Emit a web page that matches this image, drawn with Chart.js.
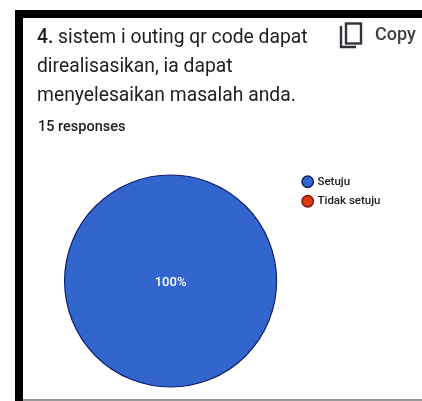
<!DOCTYPE html>
<html>
<head>
<meta charset="utf-8">
<script src="https://cdn.jsdelivr.net/npm/chart.js@4"></script>
<style>
  html, body { margin: 0; padding: 0; background: #fff; }
  #card { position: relative; width: 422px; height: 401px; overflow: hidden; background: #fff; font-family: Roboto, sans-serif; color: #202124; }
  #frameTop { position: absolute; left: 15px; top: 10px; width: 407px; height: 8px; background: #000; }
  #frameLeft { position: absolute; left: 15px; top: 10px; width: 8px; height: 391px; background: #000; }
  #frameBottom { position: absolute; left: 23px; top: 399px; width: 399px; height: 2px; background: #9a9a9a; }
  .line { position: absolute; left: 37px; font-size: 19.3px; line-height: 22px; white-space: nowrap; filter: blur(0.4px); }
  #num { font-weight: 500; }
  #responses { position: absolute; left: 38px; top: 119px; font-size: 14.5px; font-weight: 500; line-height: 16px; filter: blur(0.4px); }
  #copy { position: absolute; left: 375px; top: 24px; font-size: 18px; font-weight: 500; line-height: 20px; color: #3c4043; filter: blur(0.4px); }
  #copyIcon { position: absolute; left: 339px; top: 22px; }
  #wrap { position: absolute; left: 23px; top: 160px; width: 399px; height: 239px; }
</style>
</head>
<body>
<div id="card">
  <div id="frameTop"></div>
  <div id="frameLeft"></div>
  <div id="frameBottom"></div>
  <div class="line" style="top:26px"><span id="num">4.</span> sistem i outing qr code dapat</div>
  <div class="line" style="top:55px">direalisasikan, ia dapat</div>
  <div class="line" style="top:84px">menyelesaikan masalah anda.</div>
  <div id="responses">15 responses</div>
  <svg id="copyIcon" width="24" height="28" viewBox="0 0 24 28" fill="none" stroke="#30343a" stroke-width="2.4">
    <rect x="7" y="1.5" width="15" height="20"/>
    <path d="M2 4 V25 H17"/>
  </svg>
  <div id="copy">Copy</div>
  <div id="wrap"><canvas id="pie"></canvas></div>
</div>
<script>
const categories = ["Setuju", "Tidak setuju"];
const responses = [15, 0];
const percentLabels = ["100%", ""];
const sliceColors = ["#3366cc", "#dc3912"];
const legendEdges = ["#0f1f6e", "#7a1408"];

// Dark rim round the pie, plus the percentage at the slice centre.
const pieDecor = {
  id: "pieDecor",
  afterDatasetsDraw(chart) {
    const { ctx } = chart;
    const meta = chart.getDatasetMeta(0);
    const first = meta.data[0];
    ctx.save();
    ctx.strokeStyle = legendEdges[0];
    ctx.lineWidth = 1.2;
    ctx.beginPath();
    ctx.arc(first.x, first.y, first.outerRadius, 0, Math.PI * 2);
    ctx.stroke();
    ctx.font = "500 13px Roboto, sans-serif";
    ctx.fillStyle = "#ffffff";
    ctx.textAlign = "center";
    ctx.textBaseline = "middle";
    meta.data.forEach((arc, i) => {
      if (percentLabels[i]) ctx.fillText(percentLabels[i], arc.x, arc.y + 2);
    });
    ctx.restore();
  }
};

new Chart(document.getElementById("pie"), {
  type: "pie",
  data: {
    labels: categories,
    datasets: [{
      data: responses,
      backgroundColor: sliceColors,
      borderWidth: 0
    }]
  },
  options: {
    responsive: true,
    maintainAspectRatio: false,
    animation: false,
    radius: 106,
    layout: { padding: { top: 8, bottom: 5, left: 22.5, right: 31.5 } },
    plugins: {
      tooltip: { enabled: false },
      legend: {
        position: "right",
        align: "start",
        maxWidth: 100,
        labels: {
          usePointStyle: true,
          pointStyle: "circle",
          boxWidth: 8,
          boxHeight: 8,
          padding: 8,
          color: "#202124",
          font: { family: "Roboto, sans-serif", size: 11.5, weight: "500" },
          generateLabels() {
            return categories.map((text, i) => ({
              text,
              index: i,
              fillStyle: sliceColors[i],
              strokeStyle: legendEdges[i],
              lineWidth: 1.5,
              pointStyle: "circle",
              fontColor: "#202124"
            }));
          }
        }
      }
    }
  },
  plugins: [pieDecor]
});
</script>
</body>
</html>
